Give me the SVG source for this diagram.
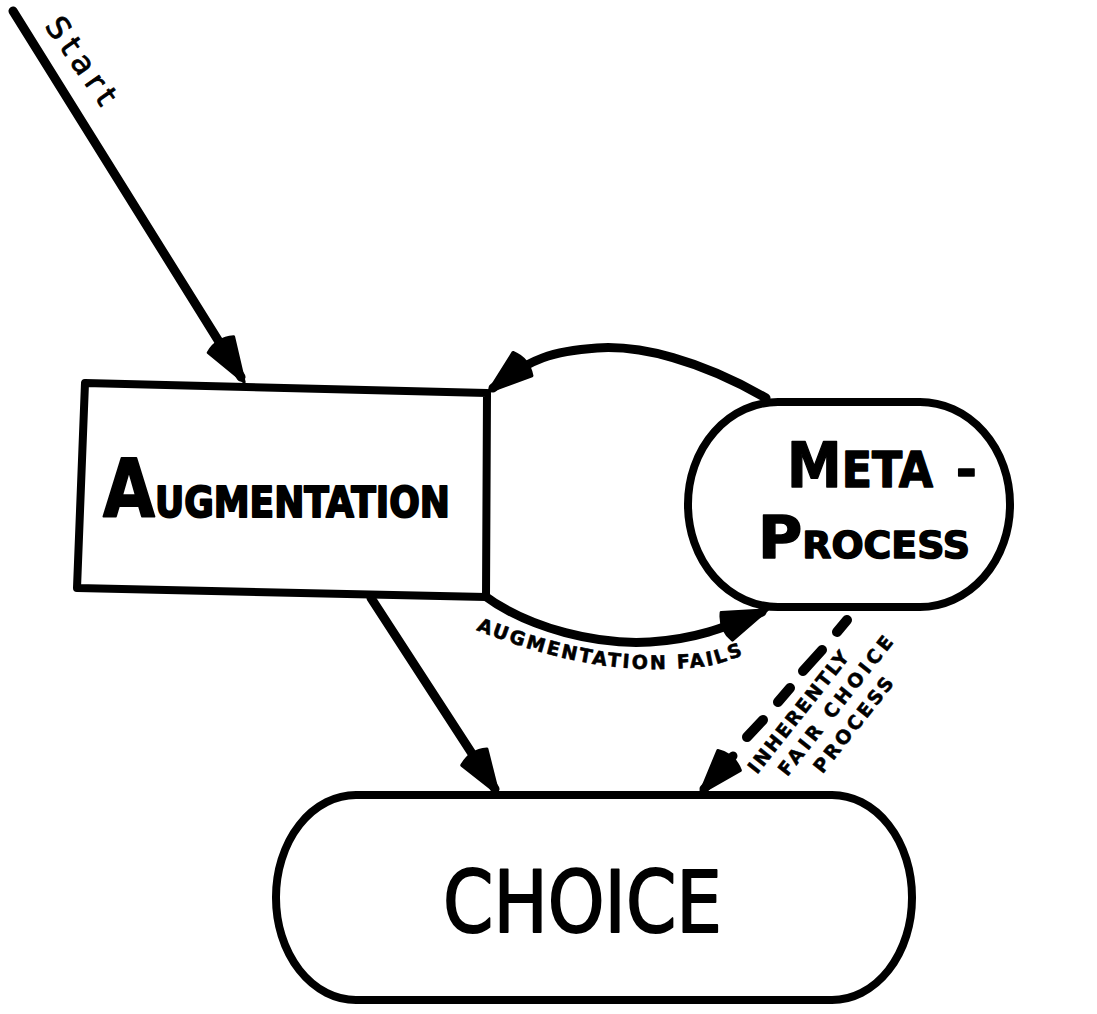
<svg xmlns="http://www.w3.org/2000/svg" width="1097" height="1014" viewBox="0 0 1097 1014">
  <style>
    .outline { fill: #fff; stroke: #000; stroke-width: 8; stroke-linejoin: round; }
    .wire { fill: none; stroke: #000; stroke-width: 9; stroke-linecap: round; stroke-linejoin: round; }
    .dash { fill: none; stroke: #000; stroke-width: 10; stroke-linecap: round; }
    .hand { font-family: "DejaVu Sans", "Liberation Sans", sans-serif; fill: #000; stroke: #000; stroke-linejoin: round; }
    .bold { font-weight: bold; }
  </style>
  <defs>
    <marker id="head" markerUnits="userSpaceOnUse" orient="auto" refX="0" refY="0" markerWidth="60" markerHeight="40" viewBox="-50 -20 60 40" overflow="visible">
      <path d="M 6 0 L -38 -15 Q -46 0 -38 15 Z" fill="#000" stroke="#000" stroke-width="3" stroke-linejoin="round"/>
    </marker>
  </defs>
  <rect width="1097" height="1014" fill="#fff"/>

  <!-- connectors -->
  <g id="connectors">
    <path class="wire" d="M 13 11 L 241 377" marker-end="url(#head)"/>
    <path class="wire" d="M 766 398 C 700 360, 640 345, 597 348 S 530 358, 493 388" marker-end="url(#head)"/>
    <path class="wire" d="M 482 594 C 530 630, 600 645, 650 642 S 730 625, 762 612" marker-end="url(#head)"/>
    <path class="wire" d="M 371 598 L 495 789" marker-end="url(#head)"/>
    <path class="dash" d="M 847 620 L 837 632 M 822 650 L 803 671 M 790 688 L 778 702 M 763 720 L 747 737"/>
    <path class="wire" d="M 733 756 L 704 789" marker-end="url(#head)"/>

    <!-- connector labels -->
    <text class="hand" font-size="31" stroke-width="0.8" letter-spacing="6" transform="translate(44 26) rotate(55)">Start</text>
    <path id="failsCurve" d="M 476 630 C 540 655, 600 670, 660 669 S 720 662, 748 654" fill="none"/>
    <text class="hand bold" font-size="19" stroke-width="0.6" letter-spacing="2.3"><textPath href="#failsCurve">AUGMENTATION FAILS</textPath></text>
    <g transform="translate(757 775) rotate(-51.6)">
      <text class="hand bold" font-size="19" stroke-width="0.5" x="0" y="0" textLength="150">INHERENTLY</text>
      <text class="hand bold" font-size="19" stroke-width="0.5" x="17" y="25" textLength="172">FAIR CHOICE</text>
      <text class="hand bold" font-size="19" stroke-width="0.5" x="41" y="51" textLength="116">PROCESS</text>
    </g>
  </g>

  <!-- Augmentation box -->
  <g id="augmentation">
    <path class="outline" d="M 85 383 L 487 393 L 486 597 L 77 588 Z"/>
    <text class="hand bold" x="103" y="517" stroke-width="2" textLength="347" lengthAdjust="spacingAndGlyphs"><tspan font-size="80">A</tspan><tspan font-size="43">UGMENTATION</tspan></text>
  </g>

  <!-- Meta-process stadium -->
  <g id="meta-process">
    <rect class="outline" x="688" y="402" width="322" height="205" rx="90" ry="102"/>
    <text class="hand bold" x="787" y="487" stroke-width="1.5" textLength="146" lengthAdjust="spacingAndGlyphs"><tspan font-size="62">M</tspan><tspan font-size="50">ETA</tspan></text>
    <text class="hand bold" x="956" y="487" font-size="50" stroke-width="1.5">-</text>
    <text class="hand bold" x="758" y="558" stroke-width="1.5" textLength="212" lengthAdjust="spacingAndGlyphs"><tspan font-size="59">P</tspan><tspan font-size="37">ROCESS</tspan></text>
  </g>

  <!-- Choice stadium -->
  <g id="choice">
    <rect class="outline" x="276" y="795" width="636" height="205" rx="80" ry="102" stroke-width="8"/>
    <text class="hand" x="443" y="932" font-size="86" stroke-width="2" textLength="279" lengthAdjust="spacingAndGlyphs">CHOICE</text>
  </g>
</svg>
